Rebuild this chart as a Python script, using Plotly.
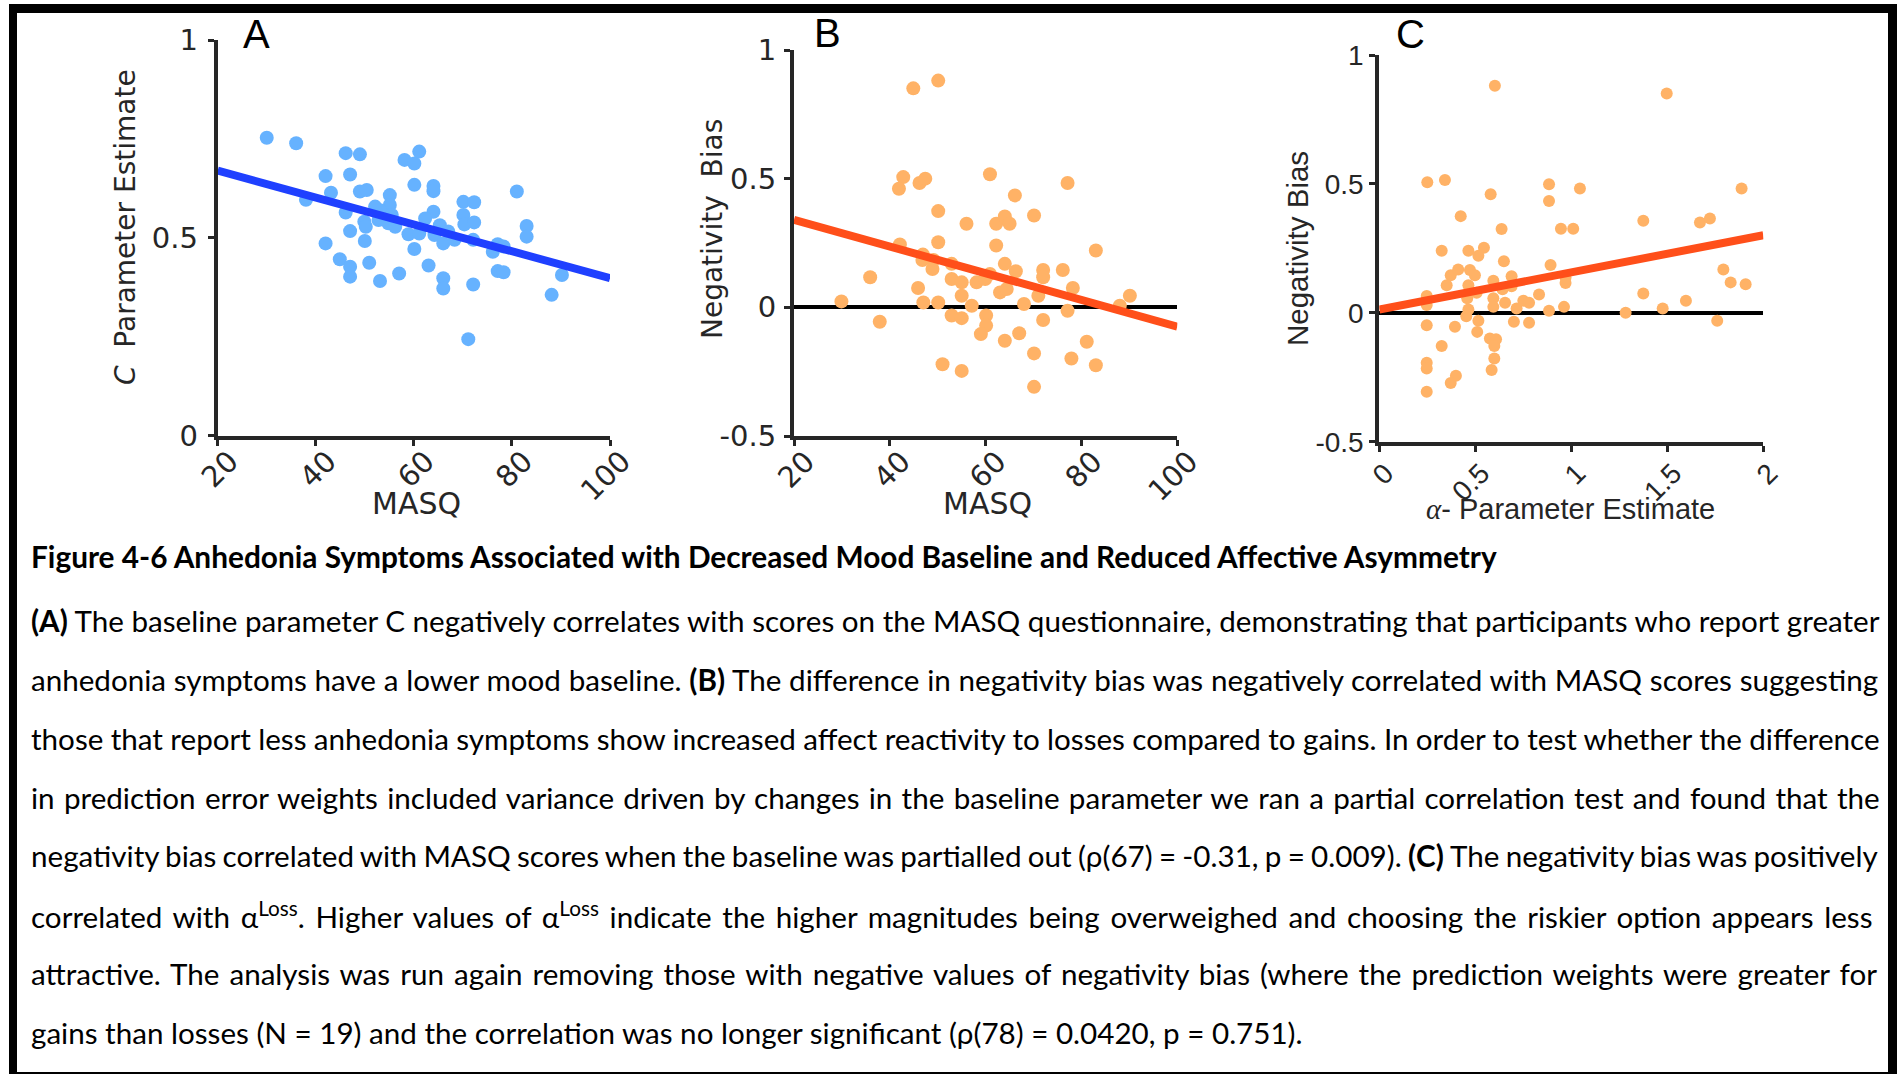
import plotly.graph_objects as go

W, H = 1901, 1074

# ---- Panel A: baseline parameter C vs MASQ ----
masq_a = [30.0, 36.0, 46.1, 49.0, 42.0, 47.0, 43.1, 38.0, 49.0, 50.4,
          46.1, 49.9, 50.2, 47.0, 42.0, 50.0, 44.9, 47.0, 47.0, 50.9,
          53.1, 57.0, 55.1, 55.1, 53.1, 52.8, 54.8, 56.2, 58.1, 60.1,
          61.1, 60.1, 64.0, 64.0, 64.0, 62.3, 58.9, 61.1, 60.1, 63.0,
          65.3, 64.2, 66.0, 67.0, 68.3, 66.0, 66.0, 70.1, 72.3, 70.1,
          70.3, 72.3, 72.1, 72.1, 71.1, 77.1, 78.3, 76.1, 77.1, 78.3,
          81.0, 83.0, 83.0, 88.1, 90.2, 52.1, 55.5]
c_est = [0.753, 0.739, 0.714, 0.711, 0.656, 0.660, 0.614, 0.596, 0.617, 0.621,
         0.564, 0.541, 0.528, 0.517, 0.486, 0.492, 0.446, 0.427, 0.402, 0.437,
         0.391, 0.410, 0.608, 0.583, 0.570, 0.545, 0.537, 0.528, 0.697, 0.688,
         0.718, 0.634, 0.631, 0.618, 0.566, 0.549, 0.509, 0.511, 0.472, 0.430,
         0.532, 0.507, 0.486, 0.516, 0.495, 0.398, 0.372, 0.591, 0.590, 0.558,
         0.534, 0.539, 0.495, 0.382, 0.244, 0.484, 0.478, 0.465, 0.416, 0.413,
         0.617, 0.530, 0.503, 0.356, 0.406, 0.579, 0.558]
fit_a_x = [20, 100]
fit_a_y = [0.670, 0.398]

# ---- Panel B: negativity bias vs MASQ ----
masq_b = [29.9, 35.9, 37.9, 44.9, 50.1, 42.8, 41.9, 46.2, 47.4, 50.1,
          56.0, 50.1, 42.1, 46.9, 46.8, 48.9, 49.1, 45.9, 47.0, 50.1,
          52.9, 52.9, 55.0, 55.0, 57.1, 52.9, 55.0, 58.1, 59.9, 60.9,
          62.2, 64.0, 65.0, 66.1, 62.2, 64.0, 66.3, 60.9, 63.0, 64.4,
          60.1, 60.1, 59.0, 64.0, 67.0, 70.1, 68.0, 71.0, 72.0, 72.0,
          72.0, 70.1, 70.1, 76.1, 77.1, 78.2, 77.1, 77.9, 81.1, 83.0,
          83.0, 88.0, 90.1, 51.0, 55.0]
bias_b = [0.023, 0.117, -0.056, 0.851, 0.881, 0.506, 0.461, 0.483, 0.500, 0.374,
          0.325, 0.253, 0.244, 0.205, 0.184, 0.149, 0.184, 0.075, 0.019, 0.019,
          0.169, 0.110, 0.097, 0.045, 0.006, -0.032, -0.042, 0.097, 0.110, 0.517,
          0.325, 0.353, 0.325, 0.435, 0.240, 0.169, 0.140, 0.130, 0.058, 0.071,
          -0.032, -0.071, -0.104, -0.130, -0.101, 0.357, 0.013, 0.045, 0.145, 0.117,
          -0.049, -0.179, -0.309, 0.145, 0.483, 0.075, -0.013, -0.199, -0.134, -0.225,
          0.221, 0.006, 0.045, -0.221, -0.247]
fit_b_x = [20, 100]
fit_b_y = [0.340, -0.075]

# ---- Panel C: negativity bias vs alpha (loss) ----
alpha_c = [0.602, 1.497, 0.250, 0.342, 0.580, 0.884, 0.884, 1.045, 1.887, 0.424,
           0.637, 0.946, 1.010, 1.375, 1.670, 1.722, 0.325, 0.464, 0.545, 0.516,
           0.649, 0.892, 0.372, 0.411, 0.472, 0.498, 0.351, 0.464, 0.594, 0.689,
           0.689, 0.642, 0.247, 0.247, 0.458, 0.507, 0.594, 0.594, 0.655, 0.464,
           0.453, 0.715, 0.750, 0.780, 0.832, 0.884, 0.962, 0.970, 0.970, 0.701,
           0.780, 0.516, 0.510, 0.247, 0.394, 0.325, 0.576, 0.608, 0.599, 0.599,
           0.585, 0.247, 0.247, 0.399, 0.372, 0.247, 1.283, 1.375, 1.476, 1.597,
           1.760, 1.792, 1.830, 1.908]
bias_c = [0.881, 0.851, 0.506, 0.515, 0.460, 0.499, 0.434, 0.482, 0.482, 0.375,
          0.325, 0.326, 0.326, 0.357, 0.350, 0.366, 0.241, 0.241, 0.252, 0.221,
          0.200, 0.185, 0.146, 0.168, 0.166, 0.146, 0.107, 0.107, 0.124, 0.142,
          0.103, 0.091, 0.065, 0.030, 0.056, 0.078, 0.056, 0.023, 0.039, 0.013,
          -0.013, 0.017, 0.047, 0.039, 0.071, 0.008, 0.023, 0.116, 0.137, -0.035,
          -0.039, -0.031, -0.074, -0.048, -0.054, -0.129, -0.100, -0.103, -0.129, -0.177,
          -0.222, -0.194, -0.216, -0.244, -0.272, -0.306, 0.000, 0.075, 0.017, 0.047,
          -0.031, 0.168, 0.118, 0.111]
fit_c_x = [0, 2]
fit_c_y = [0.013, 0.301]

masq_ticks = [20, 40, 60, 80, 100]
masq_ticktext = ["20", "40", "60", "80", "100"]
c_ticks = [0, 0.5, 1]
c_ticktext = ["0", "0.5", "1"]
bias_ticks = [-0.5, 0, 0.5, 1]
bias_ticktext = ["-0.5", "0", "0.5", "1"]
alpha_ticks = [0, 0.5, 1, 1.5, 2]
alpha_ticktext = ["0", "0.5", "1", "1.5", "2"]

caption_title = ("Figure 4-6 Anhedonia Symptoms Associated with Decreased Mood "
                 "Baseline and Reduced Affective Asymmetry")
caption_lines = [
    "<b>(A)</b> The baseline parameter C negatively correlates with scores on the MASQ "
    "questionnaire, demonstrating that participants who report greater",
    "anhedonia symptoms have a lower mood baseline. <b>(B)</b> The difference in negativity "
    "bias was negatively correlated with MASQ scores suggesting",
    "those that report less anhedonia symptoms show increased affect reactivity to losses "
    "compared to gains. In order to test whether the difference",
    "in prediction error weights included variance driven by changes in the baseline "
    "parameter we ran a partial correlation test and found that the",
    "negativity bias correlated with MASQ scores when the baseline was partialled out "
    "(ρ(67) = -0.31, p = 0.009). <b>(C)</b> The negativity bias was positively",
    "correlated with α<sup>Loss</sup>. Higher values of α<sup>Loss</sup> indicate the higher "
    "magnitudes being overweighed and choosing the riskier option appears less",
    "attractive. The analysis was run again removing those with negative values of "
    "negativity bias (where the prediction weights were greater for",
    "gains than losses (N = 19) and the correlation was no longer significant "
    "(ρ(78) = 0.0420, p = 0.751).",
]
# extra inter-word spacing (px) so the paragraph lines reach the right edge
caption_word_spacing = [0, 0.2, -0.2, 1.7, -1.3, 3.1, 2.5, 0]

AXC = "#262626"
BLUE_DOT = "#66b2ff"
BLUE_LINE = "#1f40ff"
ORANGE_DOT = "#ffb266"
RED_LINE = "#ff4f1a"


def px(x):
    return x / W


def py(y):
    return 1 - y / H


fig = go.Figure()

fig.add_trace(go.Scatter(x=masq_a, y=c_est, mode="markers", xaxis="x", yaxis="y",
                         marker=dict(color=BLUE_DOT, size=14, line=dict(width=0))))
fig.add_trace(go.Scatter(x=fit_a_x, y=fit_a_y, mode="lines", xaxis="x", yaxis="y",
                         line=dict(color=BLUE_LINE, width=8)))

fig.add_trace(go.Scatter(x=masq_b, y=bias_b, mode="markers", xaxis="x2", yaxis="y2",
                         marker=dict(color=ORANGE_DOT, size=14, line=dict(width=0))))
fig.add_trace(go.Scatter(x=fit_b_x, y=fit_b_y, mode="lines", xaxis="x2", yaxis="y2",
                         line=dict(color=RED_LINE, width=8)))

fig.add_trace(go.Scatter(x=alpha_c, y=bias_c, mode="markers", xaxis="x3", yaxis="y3",
                         marker=dict(color=ORANGE_DOT, size=12, line=dict(width=0))))
fig.add_trace(go.Scatter(x=fit_c_x, y=fit_c_y, mode="lines", xaxis="x3", yaxis="y3",
                         line=dict(color=RED_LINE, width=8)))

verdana = "DejaVu Sans"
arial = "Liberation Sans"


def axis_common(font_family, size):
    return dict(showline=True, linecolor=AXC, linewidth=4, ticks="outside",
                ticklen=6, tickwidth=3, tickcolor=AXC, showgrid=False,
                automargin=False,
                tickfont=dict(family=font_family, size=size, color=AXC),
                fixedrange=True)


fig.update_layout(
    width=W, height=H,
    margin=dict(l=0, r=0, t=0, b=0, pad=0, autoexpand=False),
    paper_bgcolor="white", plot_bgcolor="white",
    showlegend=False,
    xaxis=dict(domain=[px(217.7), px(610)], range=[20, 100], anchor="y",
               tickvals=masq_ticks, ticktext=masq_ticktext, tickangle=-45,
               ticklabelshift=12, ticklabelstandoff=-13,
               zeroline=False, **axis_common(verdana, 29)),
    yaxis=dict(domain=[py(435.7), py(40)], range=[0, 1], anchor="x",
               tickvals=c_ticks, ticktext=c_ticktext, ticklabelstandoff=4,
               zeroline=False, **axis_common(verdana, 29)),
    xaxis2=dict(domain=[px(794), px(1177.3)], range=[20, 100], anchor="y2",
                tickvals=masq_ticks, ticktext=masq_ticktext, tickangle=-45,
                ticklabelshift=12, ticklabelstandoff=-13,
                zeroline=False, **axis_common(verdana, 29)),
    yaxis2=dict(domain=[py(436), py(50)], range=[-0.5, 1], anchor="x2",
                tickvals=bias_ticks, ticktext=bias_ticktext, ticklabelstandoff=2,
                zeroline=True, zerolinecolor="black", zerolinewidth=4,
                **axis_common(verdana, 29)),
    xaxis3=dict(domain=[px(1379.3), px(1763.3)], range=[0, 2], anchor="y3",
                tickvals=alpha_ticks, ticktext=alpha_ticktext, tickangle=-45,
                ticklabelshift=6, ticklabelstandoff=-6,
                zeroline=False, **axis_common(arial, 28)),
    yaxis3=dict(domain=[py(441.7), py(55)], range=[-0.5, 1], anchor="x3",
                tickvals=bias_ticks, ticktext=bias_ticktext,
                zeroline=True, zerolinecolor="black", zerolinewidth=4,
                **axis_common(arial, 28)),
)

ann = []
# panel letters
for letter, (lx, ly) in zip(["A", "B", "C"], [(256, 34), (827, 33), (1410, 34)]):
    ann.append(dict(text=letter, x=px(lx), y=py(ly), xref="paper", yref="paper",
                    showarrow=False, xanchor="center", yanchor="middle",
                    font=dict(family=arial, size=40, color="black")))

# axis titles
ann.append(dict(text="<i>C</i>  Parameter Estimate", x=px(125), y=py(227),
                xref="paper", yref="paper", showarrow=False, textangle=-90,
                xanchor="center", yanchor="middle",
                font=dict(family=verdana, size=28, color=AXC)))
ann.append(dict(text="Negativity  Bias", x=px(713), y=py(229),
                xref="paper", yref="paper", showarrow=False, textangle=-90,
                xanchor="center", yanchor="middle",
                font=dict(family=verdana, size=28, color=AXC)))
ann.append(dict(text="Negativity Bias", x=px(1297), y=py(249),
                xref="paper", yref="paper", showarrow=False, textangle=-90,
                xanchor="center", yanchor="middle",
                font=dict(family=arial, size=29.5, color=AXC)))
ann.append(dict(text="MASQ", x=px(416), y=py(503), xref="paper", yref="paper",
                showarrow=False, xanchor="center", yanchor="middle",
                font=dict(family=verdana, size=30, color=AXC)))
ann.append(dict(text="MASQ", x=px(987), y=py(503), xref="paper", yref="paper",
                showarrow=False, xanchor="center", yanchor="middle",
                font=dict(family=verdana, size=30, color=AXC)))
ann.append(dict(text="<span style=\"font-family:'Liberation Serif'\"><i>α</i></span>- Parameter Estimate",
                x=px(1570), y=py(509), xref="paper", yref="paper",
                showarrow=False, xanchor="center", yanchor="middle",
                font=dict(family=arial, size=29, color=AXC)))

# caption
cap_font = "Lato"
ann.append(dict(text="<b>" + caption_title + "</b>", x=px(29), y=py(556.6),
                xref="paper", yref="paper", showarrow=False,
                xanchor="left", yanchor="middle",
                font=dict(family=cap_font, size=29.8, color="black")))
for i, (line, ws) in enumerate(zip(caption_lines, caption_word_spacing)):
    ann.append(dict(text=f'<span style="word-spacing:{ws}px">{line}</span>',
                    x=px(29), y=py(620.6 + i * 58.8),
                    xref="paper", yref="paper", showarrow=False,
                    xanchor="left", yanchor="middle",
                    font=dict(family=cap_font, size=29.6, color="black")))

fig.update_layout(annotations=ann)

# black frame around the figure
frame = [(9, 4, 1897, 13), (9, 4, 17, 1074), (1888, 4, 1897, 1074), (9, 1072, 1897, 1074)]
fig.update_layout(shapes=[
    dict(type="rect", xref="paper", yref="paper",
         x0=px(x0), x1=px(x1), y0=py(y1), y1=py(y0),
         fillcolor="black", line=dict(width=0), layer="above")
    for x0, y0, x1, y1 in frame
])

fig.write_html("out.html",
               post_script="document.body.style.margin='0';document.body.style.overflow='hidden';")
